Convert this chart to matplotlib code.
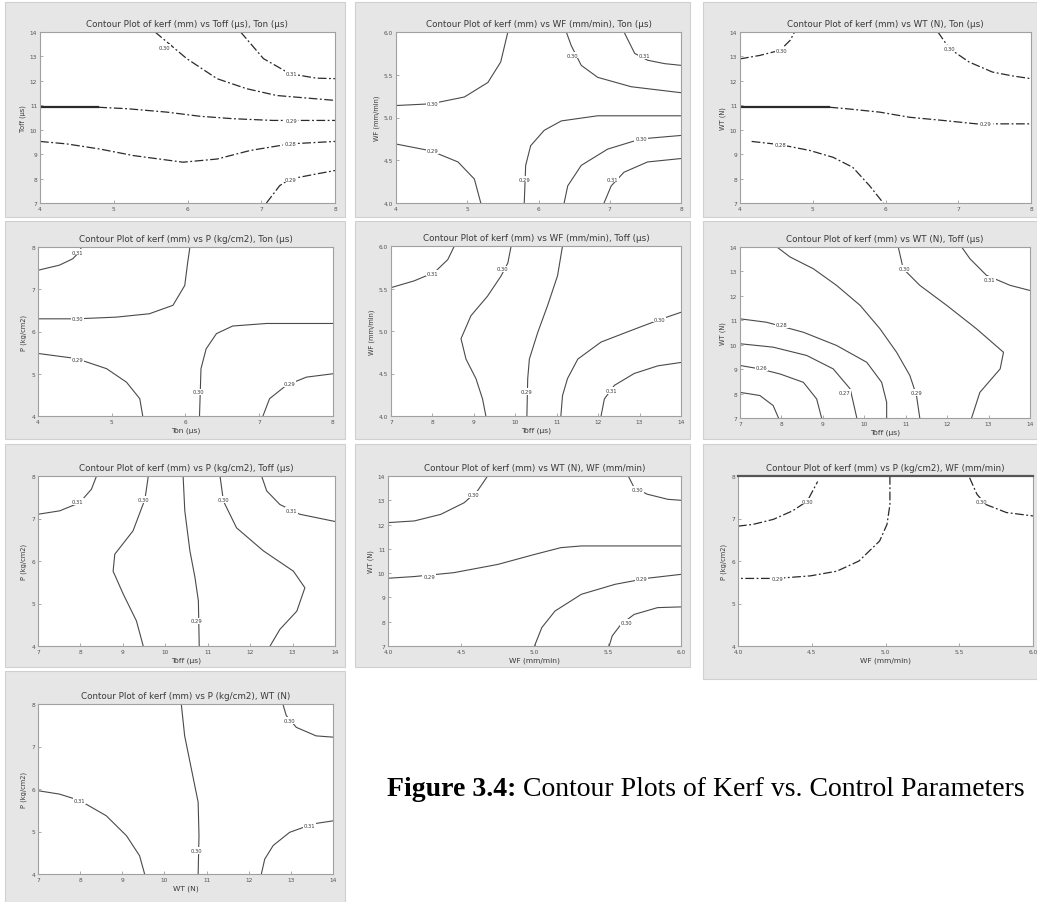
import matplotlib
matplotlib.use("Agg")
import matplotlib.pyplot as plt
from matplotlib.patches import Rectangle

W, H = 1037, 903

# Axis ranges / ticks of the factors
TON_TICKS = [4, 5, 6, 7, 8]
TOFF_TICKS = [7, 8, 9, 10, 11, 12, 13, 14]
WT_TICKS = [7, 8, 9, 10, 11, 12, 13, 14]
WF_TICKS = [4.0, 4.5, 5.0, 5.5, 6.0]
P_TICKS = [4, 5, 6, 7, 8]

TON = "Ton (µs)"
TOFF = "Toff (µs)"
WT = "WT (N)"
WF = "WF (mm/min)"
PR = "P (kg/cm2)"

# Contour lines: each entry is (x values, y values)
p1_lines = [
    ([5.56, 5.99, 6.40, 6.80, 7.21, 8.0], [14.0, 12.91, 12.09, 11.68, 11.40, 11.20]),
    ([6.72, 7.03, 7.39, 7.75, 8.0], [14.0, 12.91, 12.29, 12.11, 12.09]),
    ([4.79, 5.18, 5.72, 6.17, 6.62, 7.16, 8.0], [10.92, 10.86, 10.72, 10.55, 10.45, 10.38, 10.38]),
    ([4.0, 4.36, 4.81, 5.27, 5.94, 6.40, 6.85, 7.39, 8.0], [9.52, 9.42, 9.21, 8.94, 8.67, 8.80, 9.15, 9.42, 9.52]),
    ([7.07, 7.25, 7.39, 7.75, 8.0], [7.0, 7.71, 7.98, 8.19, 8.33]),
]
p1_solid = [([4.0, 4.79], [10.92, 10.92])]
p1_labels = [(5.69, 13.38, "0.30"), (7.41, 12.29, "0.31"), (7.41, 10.38, "0.29"),
             (7.39, 9.42, "0.28"), (7.39, 7.98, "0.29")]

p2_lines = [
    ([4.0, 4.49, 4.96, 5.29, 5.47, 5.57], [5.14, 5.16, 5.24, 5.41, 5.65, 6.0]),
    ([6.39, 6.46, 6.60, 6.83, 7.30, 8.0], [6.0, 5.84, 5.61, 5.47, 5.36, 5.29]),
    ([7.20, 7.35, 7.53, 7.77, 8.0], [6.0, 5.75, 5.67, 5.63, 5.61]),
    ([8.0, 6.83, 6.32, 6.08, 5.89, 5.82, 5.80], [5.02, 5.02, 4.96, 4.85, 4.67, 4.44, 4.0]),
    ([8.0, 7.44, 6.97, 6.60, 6.41, 6.36], [4.79, 4.75, 4.63, 4.44, 4.20, 4.0]),
    ([8.0, 7.53, 7.20, 7.02, 6.92], [4.52, 4.48, 4.36, 4.20, 4.0]),
    ([4.0, 4.49, 4.87, 5.10, 5.19], [4.69, 4.61, 4.48, 4.28, 4.0]),
]
p2_labels = [(4.51, 5.16, "0.30"), (6.48, 5.73, "0.30"), (7.49, 5.72, "0.31"),
             (5.80, 4.28, "0.29"), (7.44, 4.75, "0.30"), (7.04, 4.28, "0.31"),
             (4.51, 4.61, "0.29")]

p3_lines = [
    ([4.0, 4.27, 4.55, 4.69, 4.75], [12.9, 13.04, 13.25, 13.66, 14.0]),
    ([6.72, 6.88, 7.15, 7.47, 7.75, 8.0], [14.0, 13.32, 12.77, 12.36, 12.20, 12.09]),
    ([5.23, 5.46, 5.92, 6.33, 6.79, 7.25, 8.0], [10.92, 10.86, 10.72, 10.51, 10.38, 10.24, 10.24]),
    ([4.16, 4.55, 4.96, 5.28, 5.55, 5.78, 5.97], [9.52, 9.39, 9.15, 8.87, 8.46, 7.71, 7.0]),
]
p3_solid = [([4.0, 5.23], [10.92, 10.92])]
p3_labels = [(4.57, 13.25, "0.30"), (6.88, 13.32, "0.30"), (7.38, 10.24, "0.29"),
             (4.55, 9.39, "0.28")]

p4_lines = [
    ([4.0, 4.29, 4.47, 4.56, 4.59], [7.45, 7.57, 7.72, 7.88, 8.0]),
    ([4.0, 4.52, 5.06, 5.51, 5.83, 5.99, 6.03, 6.06], [6.30, 6.30, 6.34, 6.42, 6.62, 7.09, 7.64, 8.0]),
    ([8.0, 7.10, 6.64, 6.42, 6.28, 6.21, 6.19], [6.19, 6.19, 6.13, 5.95, 5.59, 5.12, 4.0]),
    ([4.0, 4.52, 4.93, 5.20, 5.38, 5.42], [5.48, 5.36, 5.12, 4.80, 4.41, 4.0]),
    ([8.0, 7.64, 7.37, 7.14, 7.05], [5.0, 4.92, 4.73, 4.41, 4.0]),
]
p4_labels = [(4.54, 7.88, "0.31"), (4.54, 6.30, "0.30"), (6.18, 4.57, "0.30"),
             (4.54, 5.34, "0.29"), (7.41, 4.77, "0.29")]

p5_lines = [
    ([7.0, 7.56, 8.05, 8.37, 8.53], [5.51, 5.59, 5.69, 5.84, 6.0]),
    ([9.90, 9.82, 9.66, 9.33, 8.93, 8.69, 8.81, 9.05, 9.21, 9.29],
     [6.0, 5.80, 5.65, 5.41, 5.18, 4.91, 4.67, 4.44, 4.20, 4.0]),
    ([11.14, 11.02, 10.78, 10.54, 10.34, 10.30, 10.28], [6.0, 5.65, 5.30, 4.98, 4.67, 4.44, 4.0]),
    ([14.0, 13.52, 12.87, 12.07, 11.51, 11.26, 11.14, 11.10], [5.22, 5.14, 5.02, 4.87, 4.67, 4.44, 4.24, 4.0]),
    ([14.0, 13.44, 12.87, 12.39, 12.15, 12.07], [4.63, 4.59, 4.50, 4.36, 4.20, 4.0]),
]
p5_labels = [(8.01, 5.68, "0.31"), (9.70, 5.73, "0.30"), (10.26, 4.29, "0.29"),
             (13.48, 5.14, "0.30"), (12.31, 4.30, "0.31")]

p6_lines = [
    ([7.89, 8.21, 8.77, 9.33, 9.90, 10.38, 10.78, 11.10, 11.26, 11.34],
     [14.0, 13.59, 13.11, 12.43, 11.61, 10.65, 9.69, 8.74, 7.92, 7.0]),
    ([10.82, 10.94, 11.34, 11.99, 12.71, 13.36, 13.28, 12.79, 12.59],
     [14.0, 13.11, 12.43, 11.61, 10.65, 9.69, 9.01, 8.05, 7.0]),
    ([12.35, 12.55, 12.95, 13.52, 14.0], [14.0, 13.52, 12.84, 12.43, 12.22]),
    ([7.0, 7.64, 8.53, 9.33, 10.06, 10.42, 10.54, 10.54], [11.06, 10.92, 10.51, 9.97, 9.28, 8.46, 7.64, 7.0]),
    ([7.0, 7.80, 8.61, 9.25, 9.66, 9.82], [10.04, 9.90, 9.56, 9.01, 8.19, 7.0]),
    ([7.0, 7.48, 7.97, 8.53, 8.85, 8.97], [9.15, 9.01, 8.80, 8.46, 7.78, 7.0]),
    ([7.0, 7.48, 7.80, 7.93], [8.05, 7.92, 7.51, 7.0]),
]
p6_labels = [(11.26, 8.05, "0.29"), (10.98, 13.11, "0.30"), (13.03, 12.66, "0.31"),
             (8.01, 10.81, "0.28"), (9.53, 8.05, "0.27"), (7.52, 9.05, "0.26")]

p7_lines = [
    ([7.0, 7.51, 7.98, 8.26, 8.38], [7.10, 7.18, 7.37, 7.69, 8.0]),
    ([9.60, 9.52, 9.24, 8.81, 8.77, 9.01, 9.32, 9.48], [8.0, 7.45, 6.71, 6.16, 5.76, 5.22, 4.59, 4.0]),
    ([10.42, 10.46, 10.58, 10.70, 10.78, 10.80], [8.0, 7.18, 6.24, 5.61, 5.06, 4.0]),
    ([11.29, 11.37, 11.68, 12.31, 13.02, 13.29, 13.10, 12.70, 12.47],
     [8.0, 7.41, 6.78, 6.24, 5.76, 5.37, 4.82, 4.39, 4.0]),
    ([12.27, 12.39, 12.70, 13.17, 14.0], [8.0, 7.65, 7.33, 7.10, 6.93]),
]
p7_labels = [(7.94, 7.40, "0.31"), (9.48, 7.45, "0.30"), (10.74, 4.59, "0.29"),
             (11.37, 7.45, "0.30"), (12.98, 7.19, "0.31")]

p8_lines = [
    ([4.0, 4.18, 4.36, 4.52, 4.61, 4.68], [12.08, 12.15, 12.42, 12.90, 13.38, 14.0]),
    ([5.64, 5.68, 5.77, 5.91, 6.0], [14.0, 13.52, 13.25, 13.04, 13.0]),
    ([6.0, 5.55, 5.32, 5.18, 5.0, 4.75, 4.45, 4.18, 4.0],
     [11.12, 11.12, 11.12, 11.05, 10.77, 10.36, 10.02, 9.86, 9.79]),
    ([6.0, 5.77, 5.55, 5.32, 5.14, 5.05, 5.0], [9.95, 9.79, 9.54, 9.13, 8.44, 7.76, 7.0]),
    ([6.0, 5.84, 5.68, 5.59, 5.53, 5.51], [8.61, 8.58, 8.30, 7.89, 7.41, 7.0]),
]
p8_labels = [(4.58, 13.25, "0.30"), (5.70, 13.45, "0.30"), (4.28, 9.88, "0.29"),
             (5.73, 9.77, "0.29"), (5.63, 7.96, "0.30")]

p9_lines = [
    ([4.0, 4.10, 4.24, 4.37, 4.47, 4.54], [6.82, 6.86, 6.98, 7.18, 7.41, 7.87]),
    ([5.03, 5.03, 5.01, 4.96, 4.82, 4.67, 4.49, 4.26, 4.0], [8.0, 7.33, 6.86, 6.47, 6.0, 5.76, 5.65, 5.59, 5.59]),
    ([5.57, 5.62, 5.68, 5.82, 6.0], [7.96, 7.57, 7.33, 7.14, 7.06]),
]
p9_labels = [(4.47, 7.41, "0.30"), (4.27, 5.59, "0.29"), (5.65, 7.41, "0.30")]

p10_lines = [
    ([7.0, 7.51, 7.99, 8.62, 9.10, 9.41, 9.53], [5.96, 5.88, 5.73, 5.37, 4.90, 4.43, 4.0]),
    ([10.40, 10.48, 10.64, 10.80, 10.82, 10.80], [8.0, 7.25, 6.47, 5.69, 4.90, 4.0]),
    ([12.81, 12.89, 13.13, 13.60, 14.0], [8.0, 7.73, 7.45, 7.25, 7.22]),
    ([14.0, 13.53, 12.97, 12.58, 12.38, 12.30], [5.25, 5.18, 4.98, 4.67, 4.35, 4.0]),
]
p10_labels = [(7.99, 5.73, "0.31"), (10.76, 4.55, "0.30"), (12.97, 7.61, "0.30"),
             (13.45, 5.14, "0.31")]

# title, x label, y label, x ticks, y ticks, lines, solid bits, labels, dashed?,
# background box (px), axes box (px), show x label
panels = [
    ("Contour Plot of kerf (mm) vs Toff (µs), Ton (µs)", TON, TOFF, TON_TICKS, TOFF_TICKS,
     p1_lines, p1_solid, p1_labels, True, (5, 3, 345, 218), (40, 33, 335, 204), False),
    ("Contour Plot of kerf (mm) vs WF (mm/min), Ton (µs)", TON, WF, TON_TICKS, WF_TICKS,
     p2_lines, [], p2_labels, False, (355, 3, 690, 218), (396, 33, 681, 204), False),
    ("Contour Plot of kerf (mm) vs WT (N), Ton (µs)", TON, WT, TON_TICKS, WT_TICKS,
     p3_lines, p3_solid, p3_labels, True, (703, 3, 1037, 218), (740, 33, 1031, 204), False),
    ("Contour Plot of kerf (mm) vs P (kg/cm2), Ton (µs)", TON, PR, TON_TICKS, P_TICKS,
     p4_lines, [], p4_labels, False, (5, 222, 345, 440), (38, 248, 333, 417), True),
    ("Contour Plot of kerf (mm) vs WF (mm/min), Toff (µs)", TOFF, WF, TOFF_TICKS, WF_TICKS,
     p5_lines, [], p5_labels, False, (355, 222, 690, 440), (391, 247, 681, 417), True),
    ("Contour Plot of kerf (mm) vs WT (N), Toff (µs)", TOFF, WT, TOFF_TICKS, WT_TICKS,
     p6_lines, [], p6_labels, False, (703, 222, 1037, 440), (740, 248, 1030, 419), True),
    ("Contour Plot of kerf (mm) vs P (kg/cm2), Toff (µs)", TOFF, PR, TOFF_TICKS, P_TICKS,
     p7_lines, [], p7_labels, False, (5, 445, 345, 668), (38, 477, 335, 647), True),
    ("Contour Plot of kerf (mm) vs WT (N), WF (mm/min)", WF, WT, WF_TICKS, WT_TICKS,
     p8_lines, [], p8_labels, False, (355, 445, 690, 668), (388, 477, 681, 647), True),
    ("Contour Plot of kerf (mm) vs P (kg/cm2), WF (mm/min)", WF, PR, WF_TICKS, P_TICKS,
     p9_lines, [], p9_labels, True, (703, 445, 1037, 680), (738, 477, 1033, 647), True),
    ("Contour Plot of kerf (mm) vs P (kg/cm2), WT (N)", WT, PR, WT_TICKS, P_TICKS,
     p10_lines, [], p10_labels, False, (5, 672, 345, 903), (38, 705, 333, 875), True),
]

fig = plt.figure(figsize=(W / 100, H / 100), dpi=100)
fig.patch.set_facecolor("white")

LINE_COLOR = "#4a4a4a"
TEXT_COLOR = "#3a3a3a"

for (title, xlab, ylab, xt, yt, lines, solids, labels, dashed, bg, box, show_xlab) in panels:
    x0, y0, x1, y1 = bg
    fig.add_artist(Rectangle((x0 / W, 1 - y1 / H), (x1 - x0) / W, (y1 - y0) / H,
                             transform=fig.transFigure, facecolor="#e6e6e6",
                             edgecolor="#d0d0d0", linewidth=0.8, zorder=-5))
    l, t, r, b = box
    ax = fig.add_axes([l / W, 1 - b / H, (r - l) / W, (b - t) / H])
    ax.set_facecolor("white")
    for xs, ys in lines:
        if dashed:
            ax.plot(xs, ys, color="#2a2a2a", linewidth=0.9, linestyle=(0, (7, 2, 1.5, 2)))
        else:
            ax.plot(xs, ys, color=LINE_COLOR, linewidth=0.8)
    for xs, ys in solids:
        ax.plot(xs, ys, color="#2a2a2a", linewidth=1.6)
    for lx, ly, txt in labels:
        ax.text(lx, ly, txt, fontsize=3.8, color=TEXT_COLOR, ha="center", va="center",
                bbox=dict(boxstyle="square,pad=0.15", facecolor="white", edgecolor="none"))
    ax.set_xlim(xt[0], xt[-1])
    ax.set_ylim(yt[0], yt[-1])
    ax.set_xticks(xt)
    ax.set_yticks(yt)
    if isinstance(xt[0], float):
        ax.set_xticklabels(["%.1f" % v for v in xt])
    if isinstance(yt[0], float):
        ax.set_yticklabels(["%.1f" % v for v in yt])
    ax.tick_params(labelsize=4.2, colors="#888888", labelcolor="#555555",
                   length=2, width=0.5, direction="in", pad=2)
    for s in ax.spines.values():
        s.set_color("#a0a0a0")
        s.set_linewidth(0.8)
    if dashed and xlab == WF:
        ax.spines["top"].set_color("#555555")
        ax.spines["top"].set_linewidth(1.6)
    ax.set_title(title, fontsize=6.3, color=TEXT_COLOR, pad=4)
    ax.set_ylabel(ylab, fontsize=4.8, color=TEXT_COLOR, labelpad=3)
    if show_xlab:
        ax.set_xlabel(xlab, fontsize=5.4, color=TEXT_COLOR, labelpad=2)

# Caption: bold figure number followed by the regular text
cap_y = 1 - 790 / H
t1 = fig.text(387 / W, cap_y, "Figure 3.4:", fontsize=20, fontweight="bold",
              family="Liberation Serif", ha="left", va="center")
ext = t1.get_window_extent(renderer=fig.canvas.get_renderer())
fig.text((ext.x1 + 7) / W, cap_y, "Contour Plots of Kerf vs. Control Parameters", fontsize=20,
         family="Liberation Serif", ha="left", va="center")

fig.savefig("out.png", dpi=100)
